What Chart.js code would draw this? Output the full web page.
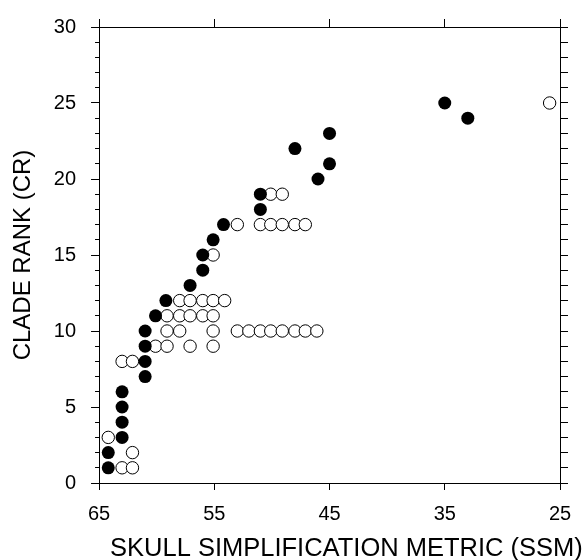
<!DOCTYPE html>
<html>
<head>
<meta charset="utf-8">
<script src="https://cdn.jsdelivr.net/npm/chart.js@4/dist/chart.umd.min.js"></script>
<style>
  html, body { margin: 0; padding: 0; background: #fff; }
  #wrap { width: 586px; height: 560px; }
</style>
</head>
<body>
<div id="wrap"><canvas id="chart"></canvas></div>
<script>
// Filled circles
const filledSSM = [64.2, 64.2, 63, 63, 63, 63, 61, 61, 61, 61, 60.1, 59.2, 57.1, 56, 56, 55.1, 54.2, 51, 51, 48, 46, 45, 45, 35, 33];
const filledCR  = [1, 2, 3, 4, 5, 6, 7, 8, 9, 10, 11, 12, 13, 14, 15, 16, 17, 18, 19, 22, 20, 21, 23, 25, 24];

// Open circles
const openSSM = [64.2, 63, 62.1, 62.1, 63, 62.1,
  60.1, 59.1, 57.1, 55.1,
  59.1, 58, 55.1, 53, 52, 51, 50.1, 49.1, 48, 47.1, 46.1,
  59.1, 58, 57.1, 56, 55.1,
  58, 57.1, 56, 55.1, 54.1,
  55.1,
  53, 51, 50.1, 49.1, 48, 47.1,
  50.1, 49.1,
  25.9];
const openCR = [3, 1, 1, 2, 8, 8,
  9, 9, 9, 9,
  10, 10, 10, 10, 10, 10, 10, 10, 10, 10, 10,
  11, 11, 11, 11, 11,
  12, 12, 12, 12, 12,
  15,
  17, 17, 17, 17, 17, 17,
  19, 19,
  25];

const xTicks = [65, 55, 45, 35, 25];
const xTitle = 'SKULL SIMPLIFICATION METRIC (SSM)';
const yTitle = 'CLADE RANK (CR)';

function toPoints(xs, ys) {
  return xs.map((x, i) => ({ x: x, y: ys[i] }));
}

const font = "'Liberation Sans', Arial, Helvetica, sans-serif";
Chart.defaults.font.family = font;
Chart.defaults.color = '#000';

// x title sits a little right of the axis centre, so draw it by hand
const xTitlePlugin = {
  id: 'xTitle',
  afterDraw(chart) {
    const ctx = chart.ctx;
    const area = chart.chartArea;
    ctx.save();
    ctx.font = '25.5px ' + font;
    ctx.fillStyle = '#000';
    ctx.textAlign = 'left';
    ctx.textBaseline = 'middle';
    ctx.fillText(xTitle, area.left + 11, area.bottom + 66);
    ctx.restore();
  }
};

const axisGrid = {
  drawOnChartArea: false,
  drawTicks: true,
  tickLength: 8,
  color: '#000',
  lineWidth: 1
};

new Chart(document.getElementById('chart'), {
  type: 'scatter',
  data: {
    datasets: [
      {
        label: 'filled',
        data: toPoints(filledSSM, filledCR),
        pointRadius: 6.5,
        pointBackgroundColor: '#000',
        pointBorderColor: '#000',
        pointBorderWidth: 0,
        order: 1
      },
      {
        label: 'open',
        data: toPoints(openSSM, openCR),
        pointRadius: 6.2,
        pointBackgroundColor: '#fff',
        pointBorderColor: '#000',
        pointBorderWidth: 1,
        order: 2
      }
    ]
  },
  options: {
    responsive: true,
    maintainAspectRatio: false,
    animation: false,
    layout: { padding: { top: 5, right: 18, left: 0, bottom: 22 } },
    plugins: {
      legend: { display: false },
      tooltip: { enabled: false }
    },
    scales: {
      x: {
        type: 'linear',
        position: 'bottom',
        reverse: true,
        min: 25,
        max: 65,
        afterBuildTicks: (axis) => { axis.ticks = xTicks.map(v => ({ value: v })); },
        grid: Object.assign({}, axisGrid, { tickLength: 7 }),
        border: { display: true, color: '#000', width: 1 },
        ticks: { font: { size: 20 }, padding: 12, maxRotation: 0 }
      },
      x2: {
        type: 'linear',
        position: 'top',
        reverse: true,
        min: 25,
        max: 65,
        afterBuildTicks: (axis) => { axis.ticks = xTicks.map(v => ({ value: v })); },
        grid: axisGrid,
        border: { display: true, color: '#000', width: 1 },
        ticks: { display: false }
      },
      y: {
        type: 'linear',
        position: 'left',
        min: 0,
        max: 30,
        grid: Object.assign({}, axisGrid, {
          // short minor ticks: only the inner half of the tick is drawn
          tickBorderDash: (ctx) => (ctx.tick && ctx.tick.value % 5 === 0 ? [] : [0, 4, 4, 0])
        }),
        border: { display: true, color: '#000', width: 1 },
        ticks: {
          stepSize: 1,
          autoSkip: false,
          font: { size: 20 },
          padding: 15,
          callback: (v) => (v % 5 === 0 ? v : '')
        },
        title: {
          display: true,
          text: yTitle,
          font: { size: 24 },
          padding: { top: 8.6, bottom: 1.4 }
        }
      },
      y2: {
        type: 'linear',
        position: 'right',
        min: 0,
        max: 30,
        grid: axisGrid,
        border: { display: true, color: '#000', width: 1 },
        ticks: { display: false, stepSize: 1, autoSkip: false }
      }
    }
  },
  plugins: [xTitlePlugin]
});
</script>
</body>
</html>
